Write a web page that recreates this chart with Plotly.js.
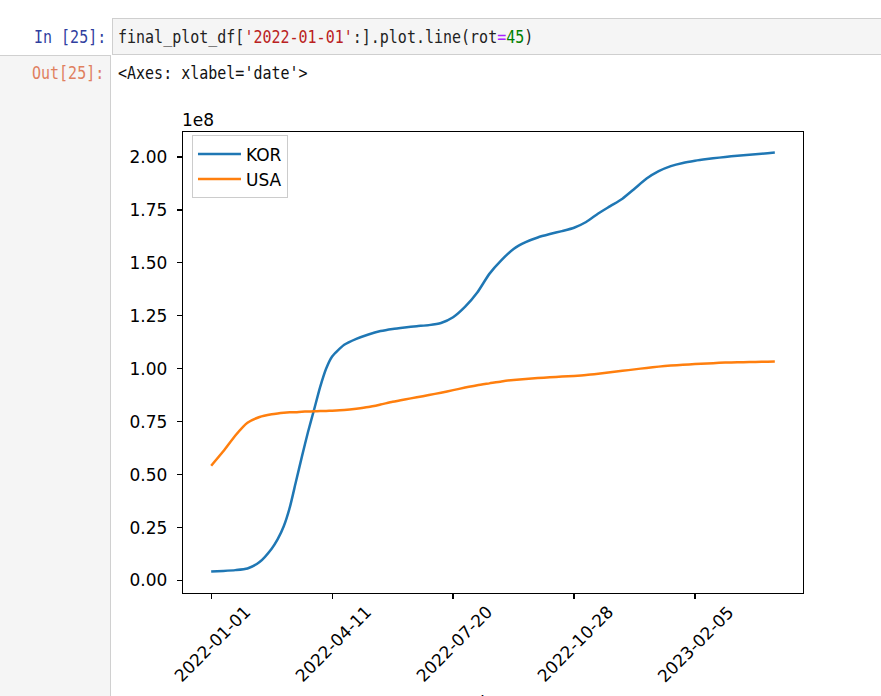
<!DOCTYPE html>
<html>
<head>
<meta charset="utf-8">
<script src="https://cdn.plot.ly/plotly-3.0.1.min.js"></script>
<style>
  html, body { margin: 0; padding: 0; background: #ffffff; }
  body { width: 881px; height: 696px; overflow: hidden; position: relative; }
  .mono { font-family: "DejaVu Sans Mono", "Liberation Mono", monospace; font-size: 17px; white-space: pre; position: absolute; transform: scaleX(0.882); transform-origin: left top; }
  #gutter { position: absolute; left: 0; top: 55px; width: 110px; height: 650px; background: #f5f5f5; border-top: 1px solid #d0d0d0; border-right: 1px solid #d0d0d0; }
  #incell { position: absolute; left: 112px; top: 18px; width: 800px; height: 35px; background: #f5f5f5; border: 1px solid #cfcfcf; }
  #inprompt { color: #303F9F; top: 27px; left: 34px; }
  #outprompt { color: #e0805f; top: 63px; left: 32px; }
  #code { color: #222; top: 27px; left: 118px; }
  #outtext { color: #111; top: 63px; left: 118px; }
  .s { color: #BA2121; } .o { color: #AA22FF; } .n { color: #008000; }
  #plot { position: absolute; left: 0; top: 0; width: 881px; height: 696px; }
</style>
</head>
<body>
<div id="gutter"></div>
<div id="incell"></div>
<div class="mono" id="inprompt">In [25]:</div>
<div class="mono" id="code">final_plot_df[<span class="s">'2022-01-01'</span>:].plot.line(rot<span class="o">=</span><span class="n">45</span>)</div>
<div class="mono" id="outprompt">Out[25]:</div>
<div class="mono" id="outtext">&lt;Axes: xlabel='date'&gt;</div>
<div id="plot"></div>
<script>
// ---- data (values in units of 1e8) ----
const dates = [
  '2022-01-01','2022-01-11','2022-01-21','2022-01-31','2022-02-10','2022-02-20','2022-02-25',
  '2022-03-02','2022-03-07','2022-03-12','2022-03-17','2022-03-22','2022-03-27','2022-04-01',
  '2022-04-06','2022-04-11','2022-04-21','2022-05-01','2022-05-11','2022-05-21','2022-05-31',
  '2022-06-10','2022-06-20','2022-06-30','2022-07-10','2022-07-20','2022-07-30','2022-08-09',
  '2022-08-19','2022-08-29','2022-09-08','2022-09-18','2022-09-28','2022-10-08','2022-10-18',
  '2022-10-28','2022-11-07','2022-11-17','2022-11-27','2022-12-07','2022-12-17','2022-12-27',
  '2023-01-06','2023-01-16','2023-01-26','2023-02-05','2023-02-15','2023-02-25','2023-03-07',
  '2023-03-17','2023-03-27','2023-04-06','2023-04-12'
];
const kor = [
  0.042, 0.045, 0.049, 0.057, 0.087, 0.150, 0.195,
  0.256, 0.345, 0.465, 0.585, 0.700, 0.805, 0.912,
  1.000, 1.058, 1.113, 1.141, 1.162, 1.178, 1.188,
  1.195, 1.201, 1.206, 1.216, 1.243, 1.293, 1.360,
  1.448, 1.513, 1.566, 1.598, 1.620, 1.636, 1.650,
  1.666, 1.693, 1.733, 1.768, 1.803, 1.850, 1.898,
  1.933, 1.957, 1.972, 1.982, 1.990, 1.997, 2.003,
  2.008, 2.013, 2.018, 2.021
];
const usa = [
  0.542, 0.610, 0.685, 0.745, 0.772, 0.785, 0.789,
  0.792, 0.794, 0.795, 0.797, 0.798, 0.799, 0.800,
  0.801, 0.802, 0.805, 0.811, 0.819, 0.831, 0.844,
  0.855, 0.865, 0.876, 0.887, 0.899, 0.911, 0.922,
  0.931, 0.940, 0.947, 0.952, 0.956, 0.960, 0.963,
  0.966, 0.970, 0.976, 0.983, 0.990, 0.997, 1.004,
  1.010, 1.015, 1.019, 1.022, 1.025, 1.028, 1.030,
  1.031, 1.032, 1.033, 1.034
];
const seriesNames = ['KOR', 'USA'];
const seriesColors = ['#1f77b4', '#ff7f0e'];
const xTickDates = ['2022-01-01', '2022-04-11', '2022-07-20', '2022-10-28', '2023-02-05'];
const yTickVals = [0, 0.25, 0.5, 0.75, 1.0, 1.25, 1.5, 1.75, 2.0];
const yTickText = ['0.00', '0.25', '0.50', '0.75', '1.00', '1.25', '1.50', '1.75', '2.00'];
const offsetText = '1e8';
const xLabel = 'date';

const FONT = 'DejaVu Sans, Verdana, sans-serif';
const series = [kor, usa];
const traces = series.map((vals, i) => ({
  type: 'scatter', mode: 'lines', name: seriesNames[i],
  x: dates, y: vals,
  line: { color: seriesColors[i], width: 2.5, shape: 'spline', smoothing: 0.6 }
}));

const annotations = xTickDates.map(d => ({
  x: d, xref: 'x', y: -0.0175, yref: 'paper',
  text: d, showarrow: false, textangle: -45,
  xanchor: 'center', yanchor: 'top', xshift: 1, yshift: 2,
  font: { family: FONT, size: 17, color: '#000' }
}));
annotations.push({
  x: 0, xref: 'paper', y: 1, yref: 'paper', text: offsetText, showarrow: false,
  xanchor: 'left', yanchor: 'bottom', xshift: -3, yshift: 0,
  font: { family: FONT, size: 17, color: '#000' }
});
annotations.push({
  x: 0.5, xref: 'paper', y: -0.212, yref: 'paper', text: xLabel, showarrow: false,
  xanchor: 'center', yanchor: 'top',
  font: { family: FONT, size: 17, color: '#000' }
});

const layout = {
  width: 881, height: 696,
  margin: { l: 183, r: 78, t: 132, b: 103, pad: 0 },
  paper_bgcolor: 'rgba(0,0,0,0)', plot_bgcolor: '#ffffff',
  showlegend: true,
  xaxis: {
    type: 'date', range: ['2021-12-08 16:48', '2023-05-05 07:12'],
    tickmode: 'array', tickvals: xTickDates, showticklabels: false,
    ticks: 'outside', ticklen: 5, tickwidth: 1.2, tickcolor: '#000',
    showline: true, linecolor: '#000', linewidth: 1.3, mirror: true,
    showgrid: false, zeroline: false
  },
  yaxis: {
    range: [-0.059, 2.118],
    tickmode: 'array', tickvals: yTickVals, ticktext: yTickText,
    ticks: 'outside', ticklen: 5, tickwidth: 1.2, tickcolor: '#000',
    ticklabelstandoff: 6,
    tickfont: { family: FONT, size: 17, color: '#000' },
    showline: true, linecolor: '#000', linewidth: 1.3, mirror: true,
    showgrid: false, zeroline: false
  },
  legend: {
    x: 0.0145, y: 0.9926, xanchor: 'left', yanchor: 'top',
    bgcolor: 'rgba(255,255,255,0.8)', bordercolor: '#cccccc', borderwidth: 1,
    font: { family: FONT, size: 17, color: '#000' },
    itemwidth: 43, tracegroupgap: 0
  },
  annotations: annotations
};

Plotly.newPlot('plot', traces, layout, { displayModeBar: false, staticPlot: true });
</script>
</body>
</html>
